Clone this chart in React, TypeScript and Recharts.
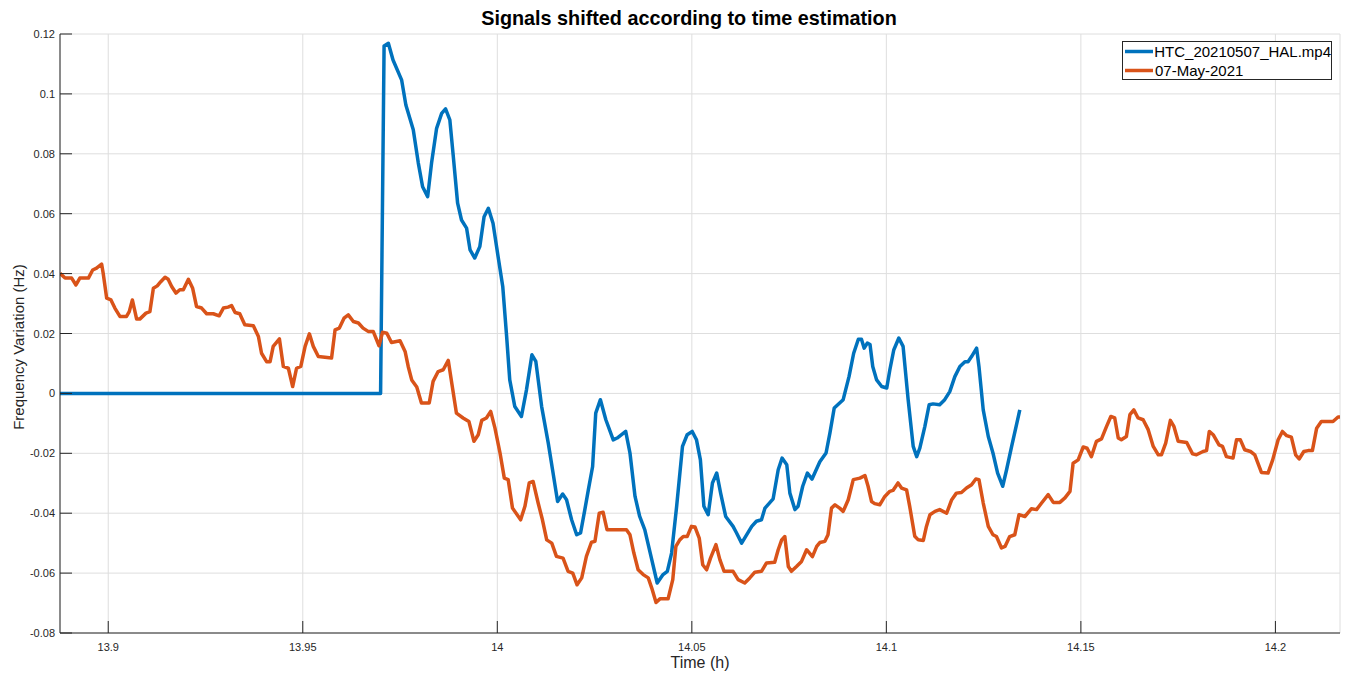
import React from 'react';
import { LineChart, Line, XAxis, YAxis, CartesianGrid, Legend } from 'recharts';

// [time (h), frequency variation (Hz)]
const htcPoints: [number, number][] = [
  [13.8876, 0], [13.9696, 0], [13.97, 0], [13.9709, 0.116], [13.972, 0.1169], [13.9732, 0.1113],
  [13.9754, 0.1047], [13.9765, 0.0963], [13.9784, 0.088], [13.9797, 0.0769], [13.9808, 0.069],
  [13.9821, 0.0657], [13.9831, 0.0769], [13.9844, 0.0885], [13.9857, 0.0935], [13.9867, 0.095],
  [13.9878, 0.0913], [13.9887, 0.079], [13.9898, 0.0635], [13.9908, 0.0579], [13.9921, 0.0552],
  [13.993, 0.0479], [13.9942, 0.0452], [13.9955, 0.049], [13.9966, 0.059], [13.9977, 0.0618],
  [13.9989, 0.0568], [14.0002, 0.0457], [14.0014, 0.0357], [14.0024, 0.019], [14.0032, 0.0045],
  [14.0045, -0.0044], [14.0062, -0.0077], [14.0075, 0.0012], [14.0089, 0.0129], [14.0099, 0.0107],
  [14.0114, -0.0044], [14.0131, -0.0166], [14.0142, -0.0255], [14.0155, -0.0361], [14.0168, -0.0336],
  [14.0178, -0.0355], [14.0191, -0.0422], [14.0204, -0.0472], [14.0214, -0.0466], [14.0225, -0.0388],
  [14.0234, -0.0322], [14.0245, -0.0244], [14.0253, -0.0066], [14.0265, -0.0021], [14.0279, -0.0088],
  [14.0298, -0.0155], [14.0308, -0.0149], [14.033, -0.0127], [14.0341, -0.0199], [14.0354, -0.0344],
  [14.0366, -0.0411], [14.0379, -0.0455], [14.0397, -0.0555], [14.0411, -0.0633], [14.0426, -0.0605],
  [14.0437, -0.0594], [14.0448, -0.0533], [14.0461, -0.0377], [14.0476, -0.0177], [14.0488, -0.0138],
  [14.0501, -0.0127], [14.0512, -0.0155], [14.0522, -0.0222], [14.0531, -0.0377], [14.0542, -0.0405],
  [14.0553, -0.0299], [14.0564, -0.0266], [14.0574, -0.0333], [14.0587, -0.0411], [14.0606, -0.0444],
  [14.0615, -0.0466], [14.0628, -0.05], [14.0654, -0.0444], [14.0666, -0.0427], [14.0679, -0.0422],
  [14.0688, -0.0383], [14.0709, -0.0352], [14.0722, -0.0255], [14.0732, -0.0216], [14.0744, -0.0238],
  [14.0752, -0.0333], [14.0765, -0.0388], [14.0773, -0.0377], [14.0785, -0.031], [14.0797, -0.0266],
  [14.0809, -0.0286], [14.0829, -0.0228], [14.0845, -0.0199], [14.0855, -0.0132], [14.0866, -0.0049],
  [14.0889, -0.0021], [14.0904, 0.0056], [14.0916, 0.0134], [14.0928, 0.0181], [14.0936, 0.0181],
  [14.0943, 0.0151], [14.0951, 0.0168], [14.0958, 0.0163], [14.0965, 0.009], [14.0975, 0.0045],
  [14.0988, 0.0023], [14.1001, 0.0018], [14.1009, 0.0079], [14.1019, 0.0145], [14.1032, 0.0185],
  [14.1043, 0.0157], [14.1056, -0.0021], [14.1069, -0.0177], [14.1078, -0.0211], [14.1086, -0.0183],
  [14.1099, -0.011], [14.111, -0.0038], [14.112, -0.0035], [14.1137, -0.0038], [14.115, -0.0021],
  [14.1163, 0.0006], [14.1176, 0.0056], [14.1189, 0.009], [14.1202, 0.0106], [14.121, 0.0106],
  [14.1219, 0.0123], [14.1232, 0.0151], [14.1238, 0.009], [14.1249, -0.0055], [14.1262, -0.0144],
  [14.1274, -0.0199], [14.1286, -0.0266], [14.1299, -0.031], [14.1309, -0.0255], [14.1322, -0.0177],
  [14.1343, -0.0055],
];

const mayPoints: [number, number][] = [
  [13.8876, 0.0401], [13.8889, 0.0385], [13.8906, 0.0385], [13.8917, 0.0362], [13.8927, 0.0385],
  [13.8949, 0.0385], [13.896, 0.0412], [13.897, 0.0418], [13.8983, 0.0432], [13.8987, 0.0401],
  [13.8996, 0.0318], [13.9007, 0.0312], [13.9017, 0.0285], [13.903, 0.0257], [13.9047, 0.0257],
  [13.9054, 0.0273], [13.9062, 0.0312], [13.9073, 0.0248], [13.9081, 0.0248], [13.9097, 0.0268],
  [13.9107, 0.0273], [13.9116, 0.0351], [13.9126, 0.0359], [13.9135, 0.0373], [13.9146, 0.0388],
  [13.9154, 0.0381], [13.9163, 0.0357], [13.9174, 0.0335], [13.9184, 0.0346], [13.9193, 0.0346],
  [13.9206, 0.0381], [13.9217, 0.0351], [13.9227, 0.029], [13.924, 0.0285], [13.9253, 0.0266],
  [13.927, 0.0266], [13.9285, 0.0259], [13.9296, 0.0285], [13.9308, 0.0288], [13.9317, 0.0293],
  [13.9326, 0.027], [13.9338, 0.0266], [13.9351, 0.0229], [13.9373, 0.0226], [13.9386, 0.019],
  [13.9394, 0.0134], [13.9407, 0.0106], [13.9416, 0.0106], [13.9424, 0.0157], [13.944, 0.0182],
  [13.945, 0.009], [13.9463, 0.0084], [13.9474, 0.0023], [13.9484, 0.0084], [13.9495, 0.009],
  [13.9506, 0.0157], [13.9517, 0.0199], [13.9527, 0.0157], [13.954, 0.0123], [13.9574, 0.0118],
  [13.9583, 0.0212], [13.9594, 0.0218], [13.9606, 0.0251], [13.9617, 0.0262], [13.963, 0.024],
  [13.9643, 0.0235], [13.9655, 0.0218], [13.9668, 0.0207], [13.9681, 0.0207], [13.9696, 0.0159],
  [13.9705, 0.0204], [13.9716, 0.0201], [13.9728, 0.017], [13.975, 0.0176], [13.9763, 0.014],
  [13.9771, 0.009], [13.978, 0.0045], [13.9793, 0.0021], [13.9805, -0.0032], [13.9825, -0.0032],
  [13.9835, 0.004], [13.9848, 0.0073], [13.9861, 0.0079], [13.9874, 0.011], [13.9883, 0.0034],
  [13.9895, -0.0066], [13.9912, -0.0082], [13.9927, -0.0094], [13.994, -0.016], [13.9951, -0.0138],
  [13.996, -0.009], [13.9972, -0.0082], [13.9983, -0.006], [13.9994, -0.0116], [14.0007, -0.0199],
  [14.0018, -0.0283], [14.0028, -0.0288], [14.0039, -0.0383], [14.006, -0.0422], [14.0071, -0.0377],
  [14.0082, -0.0299], [14.0092, -0.0294], [14.0105, -0.0366], [14.0116, -0.0422], [14.0127, -0.0489],
  [14.014, -0.05], [14.0152, -0.0544], [14.0169, -0.055], [14.0182, -0.0594], [14.0194, -0.06],
  [14.0205, -0.0639], [14.0217, -0.0616], [14.0229, -0.0544], [14.0242, -0.0497], [14.0251, -0.0494],
  [14.0262, -0.04], [14.0272, -0.0397], [14.0282, -0.0455], [14.0332, -0.0455], [14.0341, -0.0472],
  [14.0351, -0.0533], [14.0362, -0.0589], [14.0375, -0.0605], [14.0388, -0.0616], [14.0397, -0.065],
  [14.0408, -0.0698], [14.0418, -0.0686], [14.0439, -0.0686], [14.0451, -0.0622], [14.0459, -0.0511],
  [14.0469, -0.0489], [14.0478, -0.0478], [14.0488, -0.0478], [14.0499, -0.0444], [14.0508, -0.0446],
  [14.0519, -0.0483], [14.0528, -0.0572], [14.0538, -0.0589], [14.0548, -0.055], [14.0562, -0.0505],
  [14.0572, -0.0555], [14.0583, -0.0594], [14.0606, -0.0594], [14.0619, -0.0622], [14.0636, -0.0633],
  [14.0649, -0.0616], [14.0662, -0.0597], [14.0679, -0.0594], [14.0692, -0.0566], [14.0713, -0.0564],
  [14.0722, -0.0522], [14.0731, -0.0489], [14.0739, -0.0478], [14.0748, -0.0578], [14.0756, -0.0594],
  [14.0769, -0.0578], [14.0782, -0.0561], [14.0795, -0.0522], [14.081, -0.0545], [14.0821, -0.0511],
  [14.0829, -0.0498], [14.0842, -0.0494], [14.085, -0.0472], [14.0859, -0.0383], [14.0868, -0.0372],
  [14.088, -0.0383], [14.0889, -0.0394], [14.0902, -0.0355], [14.0915, -0.0288], [14.0932, -0.0283],
  [14.0945, -0.0274], [14.0953, -0.031], [14.0962, -0.0361], [14.097, -0.0368], [14.0983, -0.0372],
  [14.0996, -0.0344], [14.1009, -0.0327], [14.1017, -0.0324], [14.103, -0.0299], [14.1039, -0.0316],
  [14.1052, -0.0322], [14.106, -0.0377], [14.1073, -0.0477], [14.1082, -0.0489], [14.1095, -0.0491],
  [14.1103, -0.0444], [14.1112, -0.0405], [14.1125, -0.0394], [14.1137, -0.0388], [14.1155, -0.04],
  [14.1168, -0.0355], [14.118, -0.0333], [14.1193, -0.0331], [14.1206, -0.0316], [14.1219, -0.0305],
  [14.123, -0.0286], [14.1238, -0.0288], [14.1249, -0.0366], [14.1262, -0.0444], [14.1274, -0.0472],
  [14.1283, -0.0478], [14.1296, -0.0516], [14.1305, -0.0511], [14.1317, -0.0478], [14.133, -0.0472],
  [14.1341, -0.0405], [14.1356, -0.0411], [14.1373, -0.0385], [14.1386, -0.0388], [14.1399, -0.0366],
  [14.1416, -0.0338], [14.1429, -0.0364], [14.1446, -0.0364], [14.1459, -0.0349], [14.1472, -0.0327],
  [14.148, -0.0233], [14.1493, -0.0222], [14.1506, -0.0179], [14.1516, -0.0183], [14.1527, -0.0211],
  [14.154, -0.016], [14.1553, -0.0152], [14.1566, -0.011], [14.1577, -0.0077], [14.1587, -0.0082],
  [14.1596, -0.0149], [14.1604, -0.0155], [14.1617, -0.0144], [14.1626, -0.0071], [14.1636, -0.0055],
  [14.1647, -0.0082], [14.166, -0.0088], [14.1673, -0.0121], [14.1686, -0.0177], [14.1699, -0.0205],
  [14.1707, -0.0205], [14.1718, -0.0166], [14.173, -0.009], [14.1739, -0.011], [14.175, -0.016],
  [14.1772, -0.0164], [14.1787, -0.0202], [14.1797, -0.0205], [14.1814, -0.0194], [14.1823, -0.0191],
  [14.183, -0.0127], [14.184, -0.0138], [14.1855, -0.0172], [14.1864, -0.0177], [14.1874, -0.0211],
  [14.1891, -0.0216], [14.19, -0.0155], [14.191, -0.0155], [14.1921, -0.0188], [14.1936, -0.0194],
  [14.1947, -0.0205], [14.1964, -0.0264], [14.1981, -0.0266], [14.1993, -0.0222], [14.2007, -0.0155],
  [14.2018, -0.0127], [14.2029, -0.0141], [14.2041, -0.0146], [14.2052, -0.0205], [14.2061, -0.0219],
  [14.2073, -0.0194], [14.2084, -0.0191], [14.2095, -0.0191], [14.2106, -0.0116], [14.2118, -0.0094],
  [14.2148, -0.0094], [14.2161, -0.0079], [14.2166, -0.0079],
];

const seriesNames = ['HTC_20210507_HAL.mp4', '07-May-2021'];
const seriesColors = ['#0072BD', '#D95319'];

const xDomain: [number, number] = [13.8876, 14.2166];
const xTicks = [13.9, 13.95, 14, 14.05, 14.1, 14.15, 14.2];
const xTickLabels = ['13.9', '13.95', '14', '14.05', '14.1', '14.15', '14.2'];

const yDomain: [number, number] = [-0.08, 0.12];
const yTicks = [-0.08, -0.06, -0.04, -0.02, 0, 0.02, 0.04, 0.06, 0.08, 0.1, 0.12];
const yTickLabels = ['-0.08', '-0.06', '-0.04', '-0.02', '0', '0.02', '0.04', '0.06', '0.08', '0.1', '0.12'];

const titleText = 'Signals shifted according to time estimation';
const xLabelText = 'Time (h)';
const yLabelText = 'Frequency Variation (Hz)';

const FONT = '"Liberation Sans", Arial, Helvetica, sans-serif';
const AXIS = '#262626';

const htcData = htcPoints.map(([t, v]) => ({ t, v }));
const mayData = mayPoints.map(([t, v]) => ({ t, v }));

const lookup = (ticks: number[], labels: string[], value: number) => {
  const i = ticks.findIndex((tk) => Math.abs(tk - value) < 1e-9);
  return i >= 0 ? labels[i] : String(value);
};

const XTick = (props: any) => {
  const { x, y, payload } = props;
  return (
    <g>
      <line x1={x} x2={x} y1={y} y2={y - 12} stroke={AXIS} strokeWidth={1} />
      <text x={x} y={y + 18} textAnchor="middle" fontSize={11} fontFamily={FONT} fill={AXIS}>
        {lookup(xTicks, xTickLabels, payload.value)}
      </text>
    </g>
  );
};

const YTick = (props: any) => {
  const { x, y, payload } = props;
  return (
    <g>
      <line x1={x} x2={x + 12} y1={y} y2={y} stroke={AXIS} strokeWidth={1} />
      <text x={x - 5} y={y + 4} textAnchor="end" fontSize={11} fontFamily={FONT} fill={AXIS}>
        {lookup(yTicks, yTickLabels, payload.value)}
      </text>
    </g>
  );
};

const renderLegend = (props: any) => {
  const payload = [...(props.payload || [])].sort(
    (a: any, b: any) => seriesNames.indexOf(a.value) - seriesNames.indexOf(b.value)
  );
  return (
    <div
      style={{
        border: `1px solid ${AXIS}`,
        background: '#fff',
        width: 208,
        height: 37,
        boxSizing: 'content-box',
        fontFamily: FONT,
      }}
    >
      {payload.map((entry: any, i: number) => (
        <div key={i} style={{ display: 'flex', alignItems: 'center', height: 19 }}>
          <svg width={32} height={19} style={{ display: 'block' }}>
            <line x1={2} x2={30} y1={9.5} y2={9.5} stroke={entry.color} strokeWidth={3.5} />
          </svg>
          <span style={{ fontSize: 15, color: '#000', lineHeight: '19px', whiteSpace: 'nowrap' }}>{entry.value}</span>
        </div>
      ))}
    </div>
  );
};

export default function App() {
  return (
    <div style={{ position: 'absolute', left: 0, top: 0, width: 1346, height: 675, background: '#fff' }}>
      <LineChart
        width={1346}
        height={675}
        margin={{ top: 34, right: 6, bottom: 0, left: 0 }}
        style={{ fontFamily: FONT }}
      >
        <CartesianGrid stroke="#dedede" strokeWidth={1} />
        <XAxis
          type="number"
          dataKey="t"
          domain={xDomain}
          allowDataOverflow
          ticks={xTicks}
          interval={0}
          height={42}
          tickSize={0}
          tickMargin={0}
          tickLine={false}
          axisLine={{ stroke: AXIS, strokeWidth: 1 }}
          tick={<XTick />}
          allowDuplicatedCategory={false}
        />
        <YAxis
          type="number"
          domain={yDomain}
          allowDataOverflow
          ticks={yTicks}
          interval={0}
          width={60}
          tickSize={0}
          tickMargin={0}
          tickLine={false}
          axisLine={{ stroke: AXIS, strokeWidth: 1 }}
          tick={<YTick />}
        />
        <Legend
          layout="horizontal"
          verticalAlign="middle"
          align="center"
          content={renderLegend}
          wrapperStyle={{ position: 'absolute', top: 41, left: 1122, width: 210, height: 39 }}
        />
        <Line
          data={htcData}
          dataKey="v"
          name={seriesNames[0]}
          type="linear"
          stroke={seriesColors[0]}
          strokeWidth={3.5}
          strokeLinejoin="round"
          dot={false}
          activeDot={false}
          isAnimationActive={false}
        />
        <Line
          data={mayData}
          dataKey="v"
          name={seriesNames[1]}
          type="linear"
          stroke={seriesColors[1]}
          strokeWidth={3.5}
          strokeLinejoin="round"
          dot={false}
          activeDot={false}
          isAnimationActive={false}
        />
      </LineChart>
      <div
        style={{
          position: 'absolute',
          left: 689,
          top: 18,
          transform: 'translate(-50%, -50%)',
          fontFamily: FONT,
          fontWeight: 'bold',
          fontSize: 19.8,
          color: '#000',
          whiteSpace: 'nowrap',
          lineHeight: '22px',
        }}
      >
        {titleText}
      </div>
      <div
        style={{
          position: 'absolute',
          left: 700,
          top: 663,
          transform: 'translate(-50%, -50%)',
          fontFamily: FONT,
          fontSize: 16,
          color: AXIS,
          whiteSpace: 'nowrap',
          lineHeight: '18px',
        }}
      >
        {xLabelText}
      </div>
      <div
        style={{
          position: 'absolute',
          left: 19,
          top: 347,
          transform: 'translate(-50%, -50%) rotate(-90deg)',
          fontFamily: FONT,
          fontSize: 15,
          color: AXIS,
          whiteSpace: 'nowrap',
          lineHeight: '18px',
        }}
      >
        {yLabelText}
      </div>
    </div>
  );
}
